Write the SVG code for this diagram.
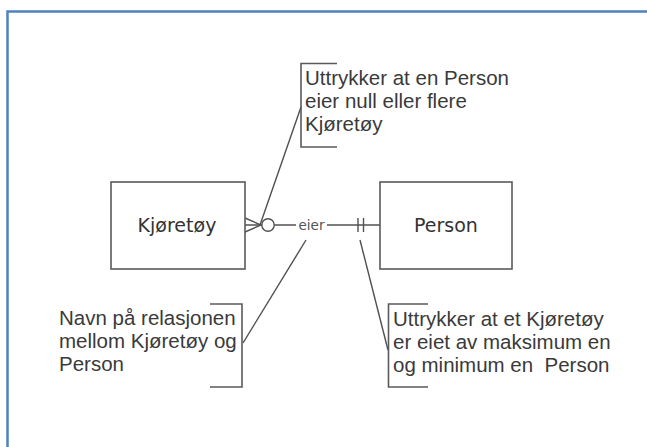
<svg xmlns="http://www.w3.org/2000/svg" width="647" height="447" viewBox="0 0 647 447">
  <style>
    .frame { fill: none; stroke: #4f81bd; stroke-width: 2.5; }
    .box { fill: #ffffff; stroke: #5a5a5a; stroke-width: 1.6; }
    .line { fill: none; stroke: #505050; stroke-width: 1.4; }
    .bracket { fill: none; stroke: #5a5a5a; stroke-width: 1.6; }
    .ent { font-family: "DejaVu Sans", sans-serif; font-size: 19px; fill: #333333; text-anchor: middle; }
    .rel { font-family: "DejaVu Sans", sans-serif; font-size: 13.5px; fill: #555555; text-anchor: middle; }
    .note { font-family: "Liberation Sans", Arial, sans-serif; font-size: 20.5px; fill: #3a3a3a; white-space: pre; }
  </style>
  <rect width="647" height="447" fill="#ffffff"/>
  <rect class="frame" x="7.5" y="11.5" width="700" height="500"/>

  <g id="connectors">
    <!-- relationship line eier -->
    <line class="line" x1="245" y1="225" x2="296" y2="225"/>
    <line class="line" x1="327" y1="225" x2="380" y2="225"/>
    <!-- crow's foot (many) + circle (zero) at Kjøretøy -->
    <path class="line" d="M245,218 L261,225 L245,232"/>
    <circle cx="268" cy="225" r="6.2" fill="#ffffff" stroke="#505050" stroke-width="1.4"/>
    <!-- exactly one at Person -->
    <line class="line" x1="358" y1="218" x2="358" y2="232"/>
    <line class="line" x1="363.5" y1="218" x2="363.5" y2="232"/>
    <text class="rel" x="311.5" y="229.5">eier</text>
    <!-- annotation leaders -->
    <line class="line" x1="301" y1="107" x2="260" y2="225"/>
    <line class="line" x1="306" y1="240" x2="243" y2="343"/>
    <line class="line" x1="360" y1="240" x2="388" y2="350"/>
  </g>

  <g id="kjoretoy">
    <rect class="box" x="111" y="182" width="134" height="87"/>
    <text class="ent" x="177" y="232">Kjøretøy</text>
  </g>

  <g id="person">
    <rect class="box" x="380" y="182" width="132" height="87"/>
    <text class="ent" x="446" y="232">Person</text>
  </g>

  <g id="note-person">
    <path class="bracket" d="M337,63.5 H301 V147 H337"/>
    <text class="note" x="305" y="85">Uttrykker at en Person</text>
    <text class="note" x="305" y="108">eier null eller flere</text>
    <text class="note" x="305" y="131">Kjøretøy</text>
  </g>

  <g id="note-relation">
    <path class="bracket" d="M210,304 H242 V387 H210"/>
    <text class="note" x="59" y="325">Navn på relasjonen</text>
    <text class="note" x="59" y="348">mellom Kjøretøy og</text>
    <text class="note" x="59" y="371">Person</text>
  </g>

  <g id="note-kjoretoy">
    <path class="bracket" d="M428,304 H388.5 V387 H428"/>
    <text class="note" x="393" y="326">Uttrykker at et Kjøretøy</text>
    <text class="note" x="393" y="349">er eiet av maksimum en</text>
    <text class="note" x="393" y="372" xml:space="preserve">og minimum en  Person</text>
  </g>
</svg>
